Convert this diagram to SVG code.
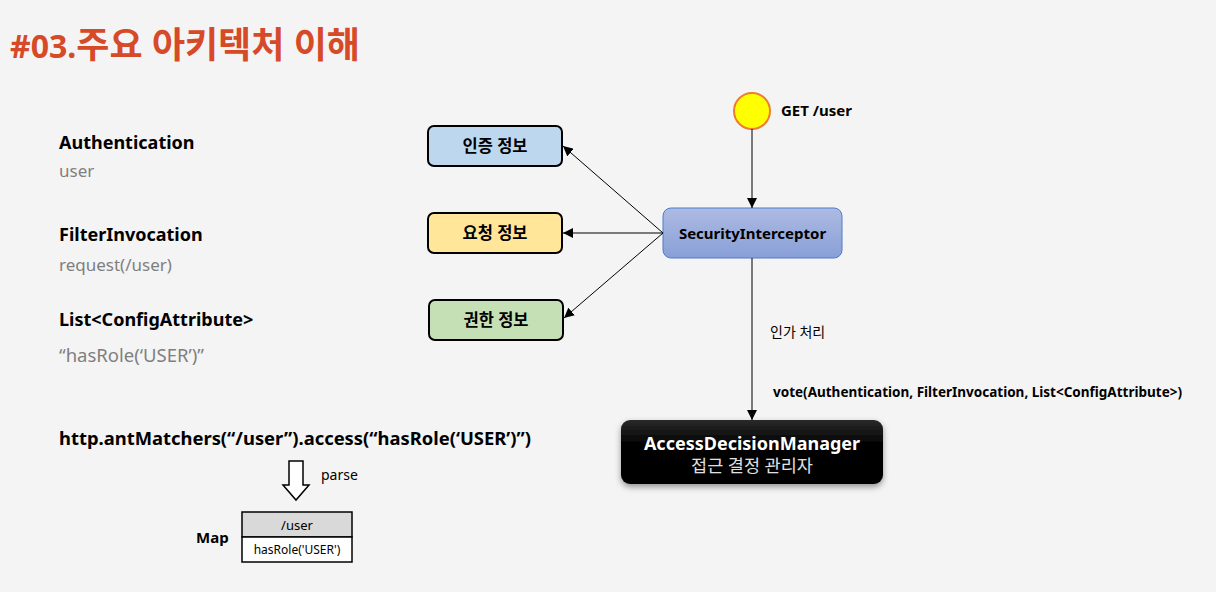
<svg xmlns="http://www.w3.org/2000/svg" width="1216" height="592" viewBox="0 0 1216 592">
<defs>
<style>
text{font-family:"Noto Sans","Noto Sans CJK KR","Open Sans",sans-serif;}
.h{font-size:18px;font-weight:bold;fill:#000;}
.g{font-size:17px;fill:#7f7f7f;}
.box{stroke:#000;stroke-width:2;}
.bl{font-size:16.5px;font-weight:bold;fill:#000;text-anchor:middle;}
.ln{stroke:#000;stroke-width:1;fill:none;}
</style>
<marker id="ah" viewBox="0 0 10 10" refX="10" refY="5" markerWidth="10" markerHeight="10" markerUnits="userSpaceOnUse" orient="auto">
<path d="M0,0 L10,5 L0,10 Z" fill="#000"/>
</marker>
<linearGradient id="si" x1="0" y1="0" x2="0" y2="1">
<stop offset="0" stop-color="#aebbe2"/>
<stop offset="1" stop-color="#889fd8"/>
</linearGradient>
<linearGradient id="adm" x1="0" y1="0" x2="0" y2="1">
<stop offset="0" stop-color="#2a2a2a"/>
<stop offset="0.4" stop-color="#000"/>
<stop offset="1" stop-color="#000"/>
</linearGradient>
<filter id="sh" x="-10%" y="-10%" width="120%" height="130%">
<feDropShadow dx="0" dy="3" stdDeviation="3" flood-color="#000" flood-opacity="0.4"/>
</filter>
</defs>
<rect width="1216" height="592" fill="#f4f4f4"/>
<text x="10" y="58" font-size="32" font-weight="bold" fill="#d64a28">#03.<tspan font-size="36">주요 아키텍처 이해</tspan></text>

<g id="left-labels">
<text x="59" y="149" class="h">Authentication</text>
<text x="59" y="177" class="g">user</text>
<text x="59" y="241" class="h">FilterInvocation</text>
<text x="59" y="271" class="g">request(/user)</text>
<text x="59" y="326" class="h">List&lt;ConfigAttribute&gt;</text>
<text x="59" y="362" font-size="18.5" fill="#7f7f7f">“hasRole(‘USER’)”</text>
<text x="59" y="445" font-size="18.4" font-weight="bold" fill="#000">http.antMatchers(“/user”).access(“hasRole(‘USER’)”)</text>
</g>

<g id="parse-arrow">
<path d="M289,461 H303 V485 H309 L296,500 L283,485 H289 Z" fill="#fff" stroke="#000" stroke-width="1.5"/>
<text x="321" y="480" font-size="14" fill="#000">parse</text>
</g>

<g id="map">
<text x="196" y="543" font-size="15" font-weight="bold" fill="#000">Map</text>
<rect x="242" y="512" width="110" height="25" fill="#d9d9d9" stroke="#000" stroke-width="1.5"/>
<rect x="242" y="537" width="110" height="25" fill="#fff" stroke="#000" stroke-width="1.5"/>
<text x="297" y="530" font-size="13" text-anchor="middle" fill="#000">/user</text>
<text x="297" y="554" font-size="12" text-anchor="middle" fill="#000">hasRole('USER')</text>
</g>

<g id="auth-info">
<rect x="428" y="126" width="134" height="40" rx="6" fill="#bdd7ee" class="box"/>
<text x="495" y="152" class="bl">인증 정보</text>
</g>
<g id="req-info">
<rect x="428" y="213" width="134" height="40" rx="6" fill="#ffe699" class="box"/>
<text x="495" y="239" class="bl">요청 정보</text>
</g>
<g id="role-info">
<rect x="429" y="300" width="134" height="40" rx="6" fill="#c5e0b4" class="box"/>
<text x="496" y="326" class="bl">권한 정보</text>
</g>

<g id="request">
<circle cx="752" cy="111" r="18" fill="#ffff00" stroke="#ed7d31" stroke-width="2"/>
<text x="781" y="116" font-size="15" font-weight="bold" fill="#000">GET /user</text>
</g>

<g id="security-interceptor">
<rect x="663" y="208" width="179" height="50" rx="8" fill="url(#si)" stroke="#4f7bd0" stroke-width="1"/>
<text x="752.5" y="239" font-size="15" font-weight="bold" fill="#000" text-anchor="middle">SecurityInterceptor</text>
</g>

<g id="access-decision-manager">
<rect x="621" y="420" width="262" height="64" rx="9" fill="url(#adm)" filter="url(#sh)"/>
<text x="752" y="450" font-size="18" font-weight="bold" fill="#fff" text-anchor="middle">AccessDecisionManager</text>
<text x="752" y="472" font-size="17.5" fill="#e0e0e0" text-anchor="middle">접근 결정 관리자</text>
</g>

<g id="connectors">
<line x1="752" y1="129" x2="752" y2="208" class="ln" marker-end="url(#ah)"/>
<line x1="663" y1="233" x2="563" y2="146" class="ln" marker-end="url(#ah)"/>
<line x1="663" y1="233" x2="563" y2="233" class="ln" marker-end="url(#ah)"/>
<line x1="663" y1="233" x2="564" y2="318" class="ln" marker-end="url(#ah)"/>
<line x1="752" y1="258" x2="752" y2="420" class="ln" marker-end="url(#ah)"/>
<text x="770" y="337" font-size="14" fill="#000">인가 처리</text>
<text x="773" y="397" font-size="13.5" font-weight="bold" fill="#000">vote(Authentication, FilterInvocation, List&lt;ConfigAttribute&gt;)</text>
</g>
</svg>
